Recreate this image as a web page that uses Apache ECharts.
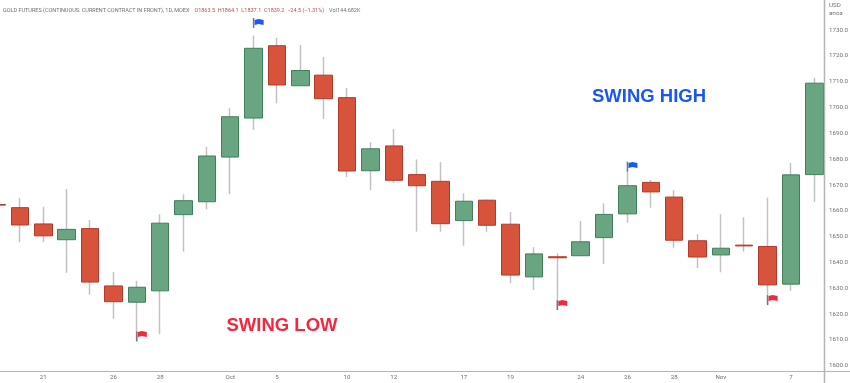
<!DOCTYPE html>
<html><head><meta charset="utf-8">
<style>html,body{margin:0;padding:0;background:#fff}#c{width:850px;height:383px}</style>
<script src="https://cdn.jsdelivr.net/npm/echarts@6/dist/echarts.min.js"></script>
</head><body><div id="c"></div>
<script>
const categories = ['Sep 19','Sep 20','Sep 21','Sep 22','Sep 23','Sep 26','Sep 27','Sep 28','Sep 29','Sep 30','Oct 3','Oct 4','Oct 5','Oct 6','Oct 7','Oct 10','Oct 11','Oct 12','Oct 13','Oct 14','Oct 17','Oct 18','Oct 19','Oct 20','Oct 21','Oct 24','Oct 25','Oct 26','Oct 27','Oct 28','Oct 31','Nov 1','Nov 2','Nov 3','Nov 7','Nov 8'];
const opens  = [1662.4,1661.2,1654.9,1648.8,1653.1,1630.9,1624.6,1629.0,1658.5,1663.5,1680.8,1695.9,1723.9,1708.4,1712.5,1703.8,1675.5,1685.1,1674.0,1671.4,1656.2,1664.1,1654.8,1634.4,1642.2,1642.6,1649.6,1658.8,1671.0,1665.3,1648.4,1642.9,1646.7,1646.2,1631.6,1674.0];
const closes = [1662.2,1654.5,1650.3,1652.8,1632.4,1624.8,1630.4,1655.2,1663.9,1681.2,1696.4,1722.9,1708.7,1714.3,1703.4,1675.4,1684.0,1671.8,1669.7,1655.0,1663.7,1654.4,1635.1,1643.3,1641.8,1648.0,1658.6,1669.7,1667.3,1648.6,1642.1,1645.5,1646.4,1631.3,1673.9,1709.4];
const lows   = [1662.2,1647.8,1648.0,1636.0,1627.5,1618.2,1609.7,1612.2,1644.2,1660.6,1666.4,1691.3,1701.6,1708.4,1695.5,1673.1,1668.0,1670.8,1651.9,1651.9,1646.5,1651.9,1631.9,1629.3,1621.6,1642.6,1639.4,1655.4,1661.2,1645.7,1637.8,1636.2,1644.2,1623.8,1629.0,1663.5];
const highs  = [1662.4,1664.9,1661.6,1668.4,1656.4,1636.3,1632.9,1658.6,1666.4,1684.8,1699.7,1727.8,1726.9,1724.2,1719.6,1707.6,1686.5,1691.6,1679.9,1678.8,1666.8,1664.4,1659.5,1645.9,1643.5,1656.0,1662.9,1676.0,1671.9,1668.0,1651.0,1658.6,1657.5,1665.1,1678.6,1711.5];
const xTickLabels = {'Sep 21':'21','Sep 26':'26','Sep 28':'28','Oct 3':'Oct','Oct 5':'5','Oct 10':'10','Oct 12':'12','Oct 17':'17','Oct 19':'19','Oct 24':'24','Oct 26':'26','Oct 28':'28','Nov 1':'Nov','Nov 7':'7'};
const yTickValues = [1600,1610,1620,1630,1640,1650,1660,1670,1680,1690,1700,1710,1720,1730];
const highFlags = [['Oct 4',1733.1],['Oct 26',1677.7]];
const highPoles = [['Oct 4',1732.7],['Oct 26',1677.1]];
const lowFlags  = [['Sep 27',1612.3],['Oct 21',1624.3],['Nov 3',1626.2]];
const lowPoles  = [['Sep 27',1611.3],['Oct 21',1623.5],['Nov 3',1625.4]];
const swingHighText = 'SWING HIGH';
const swingLowText = 'SWING LOW';
const titleText = 'GOLD FUTURES (CONTINUOUS: CURRENT CONTRACT IN FRONT), 1D, MOEX';
const quoteText = 'O1863.5  H1864.1  L1837.1  C1839.2  \u221224.5 (\u22121.31%)';
const volumeText = 'Vol144.682K';

const wickData = categories.map((c,i)=>[opens[i],closes[i],lows[i],highs[i]]);
const bodyData = categories.map((c,i)=>[opens[i],closes[i],Math.min(opens[i],closes[i]),Math.max(opens[i],closes[i])]);
const FLAG = 'path://M0,1 L4,0 L9,1 L9,6 L4,5 L0,6 Z';
const FONT = 'Roboto, sans-serif';
const GREY = '#707070';

const chart = echarts.init(document.getElementById('c'), null, {renderer:'canvas'});
chart.setOption({
  animation:false,
  backgroundColor:'#ffffff',
  title:[{
    left:3, top:2, padding:0,
    text:'{a|'+titleText+'} {b|'+quoteText+'} {a|'+volumeText+'}',
    textStyle:{fontWeight:'normal',rich:{
      a:{fontFamily:FONT,fontSize:5.5,fontWeight:'normal',color:GREY},
      b:{fontFamily:FONT,fontSize:5.5,fontWeight:'normal',color:'#a4574f'}
    }}
  }],
  grid:{left:-15.08,right:24,top:0,bottom:11.3,containLabel:false,outerBoundsMode:'none'},
  xAxis:{
    type:'category', data:categories, boundaryGap:true,
    axisLine:{show:false}, axisTick:{show:false}, splitLine:{show:false},
    axisLabel:{
      margin:3, fontFamily:FONT, fontSize:6.2, color:GREY, hideOverlap:false,
      interval:(i,v)=>v in xTickLabels,
      formatter:v=>xTickLabels[v]||''
    }
  },
  yAxis:{
    type:'value', position:'right', min:1597.7, max:1741.6, scale:true,
    axisLine:{show:false}, axisTick:{show:false}, splitLine:{show:false},
    axisLabel:{margin:3, fontFamily:FONT, fontSize:6.2, color:GREY,
      customValues:yTickValues, formatter:v=>v.toFixed(1)}
  },
  series:[
    {type:'candlestick',name:'wicks',data:wickData,barWidth:1,z:2,
     itemStyle:{color:'#c2c2c2',color0:'#c2c2c2',borderColor:'#c2c2c2',borderColor0:'#c2c2c2',borderWidth:1.5}},
    {type:'candlestick',name:'bodies',data:bodyData,barWidth:18,z:3,
     itemStyle:{color:'#6aa582',color0:'#d8533c',borderColor:'#3f7f5c',borderColor0:'#b23a2a',borderWidth:1}},
    {type:'scatter',name:'poles',z:4,symbol:'rect',symbolSize:[1.5,10],
     data:highPoles.concat(lowPoles),itemStyle:{color:'#777777',opacity:1}},
    {type:'scatter',name:'swing highs',z:5,symbol:FLAG,symbolSize:[9,6],symbolOffset:[5.5,0],
     data:highFlags,itemStyle:{color:'#1a56f5',opacity:1}},
    {type:'scatter',name:'swing lows',z:5,symbol:FLAG,symbolSize:[9,6],symbolOffset:[5.5,0],
     data:lowFlags,itemStyle:{color:'#f7263f',opacity:1}}
  ],
  graphic:[
    {type:'line',silent:true,z:10,shape:{x1:0,y1:371.5,x2:850,y2:371.5},style:{stroke:'#b5b5b5',lineWidth:1}},
    {type:'line',silent:true,z:10,shape:{x1:824.5,y1:0,x2:824.5,y2:383},style:{stroke:'#b5b5b5',lineWidth:1.5}},
    {type:'text',silent:true,x:829,y:2,style:{text:'USD',font:'6.2px '+FONT,fill:GREY}},
    {type:'text',silent:true,x:829,y:10.5,style:{text:'\u0430\u043f\u043e\u0437',font:'6.2px '+FONT,fill:GREY}},
    {type:'text',silent:true,z:10,x:649,y:97,style:{text:swingHighText,font:'bold 18.5px "Liberation Sans"',fill:'#1a56f5',align:'center',verticalAlign:'middle'}},
    {type:'text',silent:true,z:10,x:282,y:326,style:{text:swingLowText,font:'bold 18.5px "Liberation Sans"',fill:'#f7263f',align:'center',verticalAlign:'middle'}}
  ]
});
</script></body></html>
